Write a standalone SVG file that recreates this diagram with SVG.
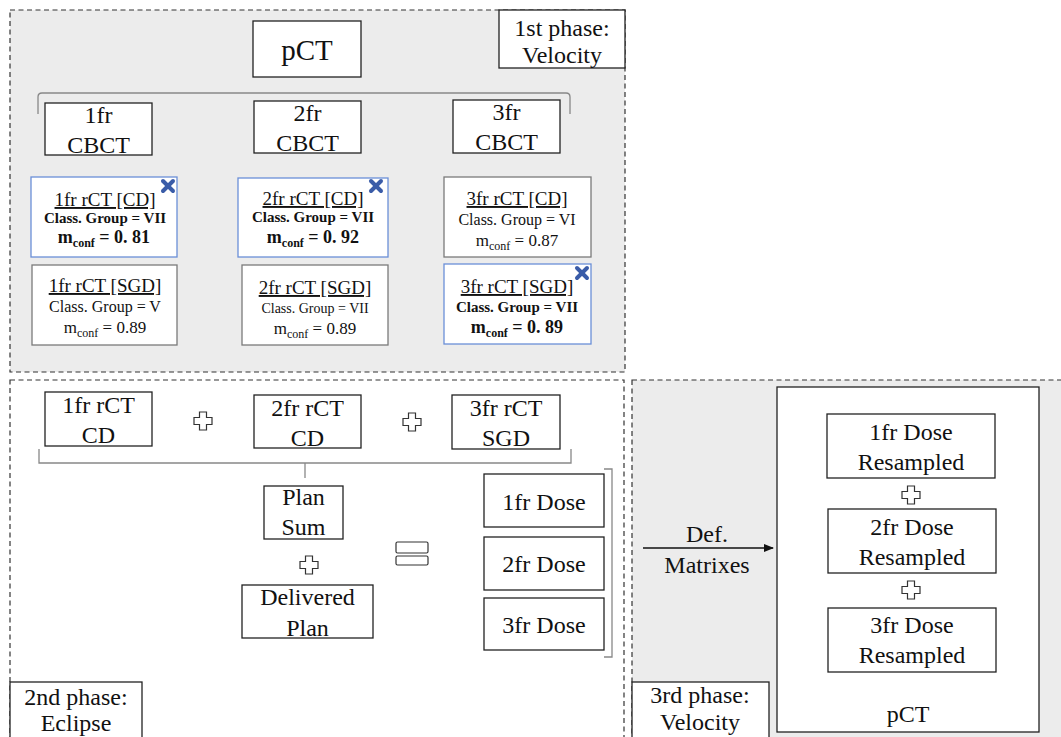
<svg xmlns="http://www.w3.org/2000/svg" width="1061" height="737" viewBox="0 0 1061 737">
<style>
.panel{stroke:#333;stroke-width:1.2;stroke-dasharray:5 3.5}
.box{fill:#fff;stroke:#222;stroke-width:1.3}
.bbox{fill:#fff;stroke:#6a8fd8;stroke-width:1.3}
.gbox{fill:#fff;stroke:#7a7a7a;stroke-width:1.3}
.t{font-family:"Liberation Serif","Times New Roman",serif;fill:#111;text-anchor:middle}
.t24{font-size:24px}
.t19{font-size:19px;text-decoration:underline}
.cb{font-size:15px;font-weight:bold}
.cn{font-size:16px}
.mb{font-size:18px;font-weight:bold}
.mn{font-size:17px}
.br{fill:none;stroke:#888;stroke-width:1.3}
.plus{fill:#fff;stroke:#333;stroke-width:1.2}
.xm{stroke:#3a5ca8;stroke-width:4;stroke-linecap:round}
</style>
<defs>
<path id="plus" d="M-3.5,-9 H3.5 V-3.5 H9 V3.5 H3.5 V9 H-3.5 V3.5 H-9 V-3.5 H-3.5 Z"/>
<marker id="arr" markerWidth="10" markerHeight="8" refX="9" refY="4" orient="auto" markerUnits="userSpaceOnUse">
<path d="M0,0 L10,4 L0,8 Z" fill="#111"/>
</marker>
</defs>

<!-- panels -->
<g id="phase1-panel">
<rect class="panel" x="10" y="10" width="615" height="362" fill="#ececec"/>
</g>
<g id="phase2-panel">
<rect class="panel" x="10" y="380" width="614" height="370" fill="#fff"/>
</g>
<g id="phase3-panel">
<rect class="panel" x="632" y="380" width="440" height="370" fill="#ececec"/>
</g>

<!-- connectors -->
<g id="connectors">
<path class="br" d="M38,114 V97 Q38,93 42,93 H566 Q570,93 570,97 V114"/>
<path class="br" d="M39,449 V463 H571 V449"/>
<path class="br" d="M305,463 V478"/>
<path class="br" d="M604,469 H612 V657 H604"/>
<line x1="643" y1="548" x2="773" y2="548" stroke="#111" stroke-width="1.3" marker-end="url(#arr)"/>
<use href="#plus" class="plus" x="203" y="421"/>
<use href="#plus" class="plus" x="412" y="422"/>
<use href="#plus" class="plus" x="309" y="565"/>
<g id="equals">
<rect x="396" y="542" width="32" height="11" rx="1.5" fill="#fff" stroke="#333" stroke-width="1.2"/>
<rect x="396" y="556" width="32" height="9" rx="1.5" fill="#fff" stroke="#333" stroke-width="1.2"/>
</g>
</g>

<!-- phase 1 nodes -->
<g id="phase1-label">
<rect class="box" x="499" y="10" width="126" height="58"/>
<text class="t" x="562" y="36" font-size="24">1st phase:</text>
<text class="t" x="562" y="63" font-size="24">Velocity</text>
</g>
<g id="pct-top">
<rect class="box" x="253" y="21" width="108" height="56"/>
<text class="t" x="307" y="60" font-size="29">pCT</text>
</g>
<g id="cbct1">
<rect class="box" x="45" y="103" width="107" height="52"/>
<text class="t t24" x="98.5" y="123">1fr</text>
<text class="t t24" x="98.5" y="153">CBCT</text>
</g>
<g id="cbct2">
<rect class="box" x="254" y="101" width="107" height="52"/>
<text class="t t24" x="307.5" y="121">2fr</text>
<text class="t t24" x="307.5" y="151">CBCT</text>
</g>
<g id="cbct3">
<rect class="box" x="453" y="100" width="107" height="53"/>
<text class="t t24" x="506.5" y="120">3fr</text>
<text class="t t24" x="506.5" y="150">CBCT</text>
</g>

<g id="rct1-cd">
<rect class="bbox" x="31" y="177" width="146" height="80"/>
<text class="t t19" x="105" y="206">1fr rCT [CD]</text>
<text class="t cb" x="105" y="223">Class. Group = VII</text>
<text class="t mb" x="104" y="243">m<tspan font-size="12" dy="4">conf</tspan><tspan dy="-4"> = 0. 81</tspan></text>
<line class="xm" x1="163" y1="181" x2="173" y2="191"/><line class="xm" x1="173" y1="181" x2="163" y2="191"/>
</g>
<g id="rct2-cd">
<rect class="bbox" x="238" y="178" width="150" height="79"/>
<text class="t t19" x="313" y="205">2fr rCT [CD]</text>
<text class="t cb" x="313" y="222">Class. Group = VII</text>
<text class="t mb" x="313" y="243">m<tspan font-size="12" dy="4">conf</tspan><tspan dy="-4"> = 0. 92</tspan></text>
<line class="xm" x1="371" y1="181" x2="381" y2="191"/><line class="xm" x1="381" y1="181" x2="371" y2="191"/>
</g>
<g id="rct3-cd">
<rect class="gbox" x="444" y="177" width="147" height="80"/>
<text class="t t19" x="517" y="205">3fr rCT [CD]</text>
<text class="t cn" x="517" y="225">Class. Group = VI</text>
<text class="t mn" x="517" y="246">m<tspan font-size="12" dy="4">conf</tspan><tspan dy="-4"> = 0.87</tspan></text>
</g>
<g id="rct1-sgd">
<rect class="gbox" x="32" y="265" width="145" height="80"/>
<text class="t t19" x="105" y="292">1fr rCT [SGD]</text>
<text class="t cn" x="105" y="312">Class. Group = V</text>
<text class="t mn" x="105" y="333">m<tspan font-size="12" dy="4">conf</tspan><tspan dy="-4"> = 0.89</tspan></text>
</g>
<g id="rct2-sgd">
<rect class="gbox" x="242" y="265" width="146" height="80"/>
<text class="t t19" x="315" y="294">2fr rCT [SGD]</text>
<text class="t" x="315" y="313" font-size="14">Class. Group = VII</text>
<text class="t mn" x="315" y="334">m<tspan font-size="12" dy="4">conf</tspan><tspan dy="-4"> = 0.89</tspan></text>
</g>
<g id="rct3-sgd">
<rect class="bbox" x="444" y="264" width="147" height="80"/>
<text class="t t19" x="517" y="293">3fr rCT [SGD]</text>
<text class="t cb" x="517" y="312">Class. Group = VII</text>
<text class="t mb" x="517" y="333">m<tspan font-size="12" dy="4">conf</tspan><tspan dy="-4"> = 0. 89</tspan></text>
<line class="xm" x1="577" y1="268" x2="587" y2="278"/><line class="xm" x1="587" y1="268" x2="577" y2="278"/>
</g>

<!-- phase 2 nodes -->
<g id="p2-rct1">
<rect class="box" x="45" y="392" width="107" height="54"/>
<text class="t t24" x="98.5" y="413">1fr rCT</text>
<text class="t t24" x="98.5" y="443">CD</text>
</g>
<g id="p2-rct2">
<rect class="box" x="254" y="395" width="107" height="53"/>
<text class="t t24" x="307.5" y="416">2fr rCT</text>
<text class="t t24" x="307.5" y="446">CD</text>
</g>
<g id="p2-rct3">
<rect class="box" x="452" y="395" width="108" height="54"/>
<text class="t t24" x="506" y="416">3fr rCT</text>
<text class="t t24" x="506" y="446">SGD</text>
</g>
<g id="plan-sum">
<rect class="box" x="264" y="486" width="79" height="53"/>
<text class="t t24" x="303.5" y="505">Plan</text>
<text class="t t24" x="303.5" y="535">Sum</text>
</g>
<g id="delivered-plan">
<rect class="box" x="242" y="585" width="131" height="53"/>
<text class="t t24" x="307.5" y="605">Delivered</text>
<text class="t t24" x="307.5" y="636">Plan</text>
</g>
<g id="dose1">
<rect class="box" x="484" y="474" width="120" height="53"/>
<text class="t t24" x="544" y="510">1fr Dose</text>
</g>
<g id="dose2">
<rect class="box" x="484" y="537" width="120" height="53"/>
<text class="t t24" x="544" y="572">2fr Dose</text>
</g>
<g id="dose3">
<rect class="box" x="484" y="598" width="120" height="52"/>
<text class="t t24" x="544" y="633">3fr Dose</text>
</g>
<g id="phase2-label">
<rect class="box" x="10" y="682" width="132" height="70"/>
<text class="t t24" x="76" y="705">2nd phase:</text>
<text class="t t24" x="76" y="731">Eclipse</text>
</g>

<!-- phase 3 nodes -->
<g id="def-label">
<text class="t t24" x="707" y="542">Def.</text>
<text class="t t24" x="707" y="573">Matrixes</text>
</g>
<g id="pct-big">
<rect class="box" x="777" y="387" width="262" height="345"/>
<text class="t t24" x="908" y="722">pCT</text>
</g>
<g id="res1">
<rect class="box" x="827" y="414" width="168" height="64"/>
<text class="t t24" x="911" y="440">1fr Dose</text>
<text class="t t24" x="911" y="470">Resampled</text>
</g>
<use href="#plus" class="plus" x="911" y="495"/>
<g id="res2">
<rect class="box" x="828" y="509" width="168" height="64"/>
<text class="t t24" x="912" y="535">2fr Dose</text>
<text class="t t24" x="912" y="565">Resampled</text>
</g>
<use href="#plus" class="plus" x="911" y="590"/>
<g id="res3">
<rect class="box" x="828" y="608" width="168" height="64"/>
<text class="t t24" x="912" y="633">3fr Dose</text>
<text class="t t24" x="912" y="663">Resampled</text>
</g>
<g id="phase3-label">
<rect class="box" x="632" y="682" width="137" height="70"/>
<text class="t t24" x="700" y="703">3rd phase:</text>
<text class="t t24" x="700" y="730">Velocity</text>
</g>
</svg>
